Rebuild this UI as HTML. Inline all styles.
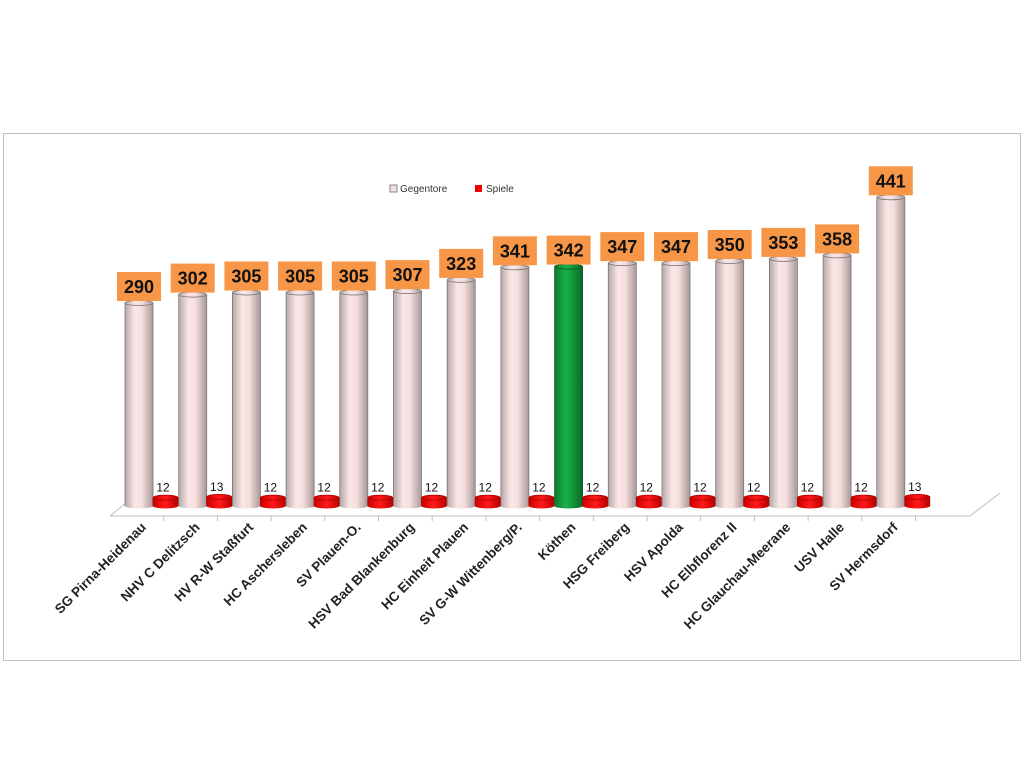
<!DOCTYPE html>
<html><head><meta charset="utf-8"><style>
body{margin:0;background:#fff;}
svg text{font-family:"Liberation Sans",sans-serif;}
</style></head><body>
<svg width="1028" height="768" viewBox="0 0 1028 768">
<defs>
<linearGradient id="pink" x1="0" x2="1"><stop offset="0" stop-color="#b8a8a8"/><stop offset="0.35" stop-color="#fbe6e6"/><stop offset="0.6" stop-color="#f6dede"/><stop offset="1" stop-color="#a89898"/></linearGradient>
<linearGradient id="green" x1="0" x2="1"><stop offset="0" stop-color="#0b7a2c"/><stop offset="0.4" stop-color="#19b24a"/><stop offset="1" stop-color="#0a6a26"/></linearGradient>
<linearGradient id="red" x1="0" x2="1"><stop offset="0" stop-color="#c00"/><stop offset="0.5" stop-color="#ff1a1a"/><stop offset="1" stop-color="#b00"/></linearGradient>
</defs>
<rect x="3.5" y="133.5" width="1017" height="527" fill="#fff" stroke="#bfbfbf"/>
<g>
<rect x="390" y="185" width="7" height="7" fill="#f6dede" stroke="#888"/>
<text x="400" y="192" font-size="10" fill="#333">Gegentore</text>
<rect x="475" y="185" width="7" height="7" fill="#e00"/>
<text x="486" y="192" font-size="10" fill="#333">Spiele</text>
</g>
<g id="floor">
<polyline points="110,516 970,516 1000,493" fill="none" stroke="#bfbfbf"/>
<line x1="110" y1="516" x2="138" y2="493" stroke="#bfbfbf"/>
</g>
<g id="plot"></g>
</svg>
<script>
const teams=["SG Pirna-Heidenau","NHV C Delitzsch","HV R-W Staßfurt","HC Aschersleben","SV Plauen-O.","HSV Bad Blankenburg","HC Einheit Plauen","SV G-W Wittenberg/P.","Köthen","HSG Freiberg","HSV Apolda","HC Elbflorenz II","HC Glauchau-Meerane","USV Halle","SV Hermsdorf"];
const gegentore=[290,302,305,305,305,307,323,341,342,347,347,350,353,358,441];
const spiele=[12,13,12,12,12,12,12,12,12,12,12,12,12,12,13];
const highlight=[false,false,false,false,false,false,false,false,true,false,false,false,false,false,false];
const NS="http://www.w3.org/2000/svg";
const plot=document.getElementById('plot');
const floor=document.getElementById('floor');
const x0=110,step=53.7,base=506,k=0.70;
function yv(v){return base-v*k;}
function mk(t,a,p){const e=document.createElementNS(NS,t);for(const n in a)e.setAttribute(n,a[n]);(p||plot).appendChild(e);return e;}
function cyl(x,w,yt,fill,stroke,name){
  const g=mk('g',{});
  
  
  mk('rect',{x:x,y:yt,width:w,height:base-yt,fill:fill,stroke:stroke,'stroke-width':0.8},g);
  mk('ellipse',{cx:x+w/2,cy:base,rx:w/2,ry:2.5,fill:fill},g);
  mk('ellipse',{cx:x+w/2,cy:yt,rx:w/2,ry:2.5,fill:fill,stroke:stroke,'stroke-width':0.8},g);
}
teams.forEach((t,i)=>{
  const cs=x0+i*step;
  const tk=mk('line',{x1:cs+step,y1:516,x2:cs+step,y2:521,stroke:'#bfbfbf'},floor);
  
  
  const yt=yv(gegentore[i]);
  cyl(cs+15,28,yt,highlight[i]?'url(#green)':'url(#pink)',highlight[i]?'#0a5a20':'#777','bar-gegentore');
  const ys=yv(spiele[i]);
  cyl(cs+43,25,ys,'url(#red)','#a00','bar-spiele');
  const bx=mk('rect',{x:cs+29-22,y:yt-31,width:44,height:29,fill:'#f79646'});
  
  
  const vt=mk('text',{x:cs+29,y:yt-10,'font-size':18,'font-weight':'bold','text-anchor':'middle',fill:'#111'});
  vt.textContent=gegentore[i];
  
  
  const st=mk('text',{x:cs+53,y:ys-6,'font-size':12,'text-anchor':'middle',fill:'#111'});
  st.textContent=spiele[i];
  
  
  const lx=cs+step/2+10,ly=528;
  const lt=mk('text',{x:lx,y:ly,'font-size':13.5,'font-weight':'bold','text-anchor':'end',fill:'#222',transform:`rotate(-45 ${lx} ${ly})`});
  lt.textContent=t;
  
  
});
</script>
</body></html>
